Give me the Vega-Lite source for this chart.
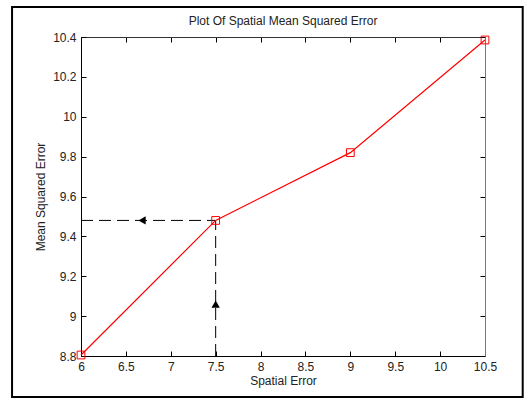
{
  "$schema": "https://vega.github.io/schema/vega-lite/v6.json",
  "width": 404,
  "height": 319,
  "autosize": {"type": "none"},
  "padding": {"left": 81, "top": 37, "right": 43, "bottom": 43},
  "background": "white",
  "config": {
    "view": {"stroke": null},
    "font": "Liberation Sans",
    "axis": {
      "grid": false,
      "domainColor": "#000000",
      "tickColor": "#000000",
      "tickSize": -5,
      "labelPadding": 10,
      "labelFontSize": 12,
      "labelColor": "#222222",
      "titleFontSize": 12,
      "titleFontWeight": "normal",
      "titleColor": "#222222",
      "labelFlush": false,
      "labelOverlap": false
    }
  },
  "title": {
    "text": "Plot Of Spatial Mean Squared Error",
    "fontSize": 12,
    "fontWeight": "normal",
    "color": "#222222",
    "offset": -22
  },
  "datasets": {
    "mse": [
      {"spatial": 6, "error": 8.805},
      {"spatial": 7.5, "error": 9.48},
      {"spatial": 9, "error": 9.82},
      {"spatial": 10.5, "error": 10.385}
    ],
    "guides": [
      {"x1": 6, "x2": 7.5, "y1": 9.48, "y2": 9.48},
      {"x1": 7.5, "x2": 7.5, "y1": 8.8, "y2": 9.48}
    ],
    "arrows": [
      {"ax": 6.68, "ay": 9.48, "dir": "left"},
      {"ax": 7.5, "ay": 9.06, "dir": "up"}
    ],
    "frame": [
      {"fx1": 5.232, "fx2": 10.92, "fy1": 8.594, "fy2": 10.55}
    ]
  },
  "resolve": {"axis": {"x": "independent", "y": "independent"}},
  "layer": [
    {
      "data": {"name": "frame"},
      "mark": {"type": "rect", "filled": false, "stroke": "#000000", "strokeWidth": 2, "clip": false},
      "encoding": {
        "x": {"field": "fx1", "type": "quantitative", "scale": {"domain": [6, 10.5], "nice": false, "zero": false}, "axis": null},
        "x2": {"field": "fx2"},
        "y": {"field": "fy1", "type": "quantitative", "scale": {"domain": [8.8, 10.4], "nice": false, "zero": false}, "axis": null},
        "y2": {"field": "fy2"}
      }
    },
    {
      "data": {"name": "guides"},
      "mark": {"type": "rule", "color": "#000000", "strokeWidth": 1, "strokeDash": [12, 6]},
      "encoding": {
        "x": {"field": "x1", "type": "quantitative", "axis": {"orient": "top", "values": [6, 6.5, 7, 7.5, 8, 8.5, 9, 9.5, 10, 10.5], "labels": false, "title": null, "domainColor": "#333333"}},
        "x2": {"field": "x2"},
        "y": {"field": "y1", "type": "quantitative", "axis": {"orient": "right", "values": [8.8, 9, 9.2, 9.4, 9.6, 9.8, 10, 10.2, 10.4], "labels": false, "title": null, "domainColor": "#777777"}},
        "y2": {"field": "y2"}
      }
    },
    {
      "data": {"name": "mse"},
      "mark": {"type": "line", "color": "#ff0000", "strokeWidth": 1.2},
      "encoding": {
        "x": {"field": "spatial", "type": "quantitative", "axis": {"orient": "bottom", "values": [6, 6.5, 7, 7.5, 8, 8.5, 9, 9.5, 10, 10.5], "format": "~g", "title": "Spatial Error", "titlePadding": 3}},
        "y": {"field": "error", "type": "quantitative", "axis": {"orient": "left", "values": [8.8, 9, 9.2, 9.4, 9.6, 9.8, 10, 10.2, 10.4], "format": "~g", "title": "Mean Squared Error", "titlePadding": 5}}
      }
    },
    {
      "data": {"name": "mse"},
      "mark": {"type": "point", "shape": "square", "filled": false, "color": "#ff0000", "strokeWidth": 1, "size": 60, "opacity": 1},
      "encoding": {
        "x": {"field": "spatial", "type": "quantitative", "axis": null},
        "y": {"field": "error", "type": "quantitative", "axis": null}
      }
    },
    {
      "data": {"name": "arrows"},
      "mark": {"type": "point", "filled": true, "color": "#000000", "size": 70, "opacity": 1},
      "encoding": {
        "x": {"field": "ax", "type": "quantitative", "axis": null},
        "y": {"field": "ay", "type": "quantitative", "axis": null},
        "shape": {"field": "dir", "type": "nominal", "scale": {"domain": ["left", "up"], "range": ["triangle-left", "triangle-up"]}, "legend": null}
      }
    }
  ]
}
